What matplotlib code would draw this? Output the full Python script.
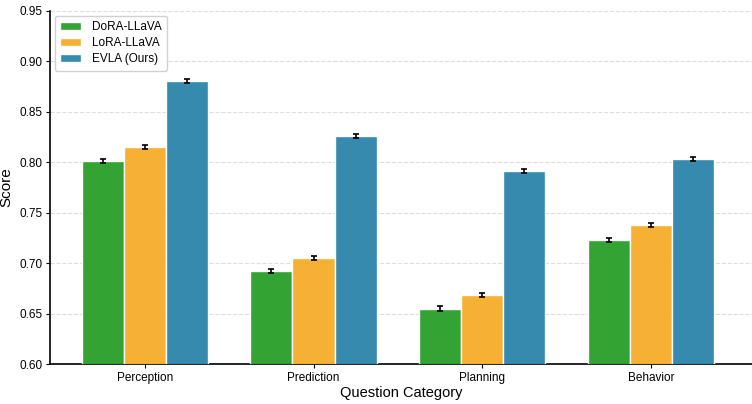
import matplotlib
matplotlib.use("Agg")
import matplotlib.pyplot as plt
import numpy as np

plt.rcParams['font.family'] = ['Liberation Sans', 'DejaVu Sans']

categories = ["Perception", "Prediction", "Planning", "Behavior"]
series_names = ["DoRA-LLaVA", "LoRA-LLaVA", "EVLA (Ours)"]
dora = [0.801, 0.692, 0.655, 0.723]
lora = [0.815, 0.705, 0.668, 0.738]
evla = [0.881, 0.826, 0.791, 0.803]
dora_err = [0.002, 0.002, 0.002, 0.002]
lora_err = [0.002, 0.002, 0.002, 0.002]
evla_err = [0.002, 0.002, 0.002, 0.002]
colors = ["#2ca02c", "#f6ae2d", "#2e86ab"]

fig = plt.figure(figsize=(7.52, 4.04), dpi=100)
ax = fig.add_axes([0.0665, 0.099, 0.9335, 0.874])

x = np.arange(len(categories))
w = 0.25
for i, (vals, errs) in enumerate(zip([dora, lora, evla], [dora_err, lora_err, evla_err])):
    ax.bar(x + (i - 1) * w, vals, w, yerr=errs, color=colors[i], edgecolor='white',
           linewidth=1.0, label=series_names[i], capsize=2.5, alpha=0.97,
           error_kw=dict(ecolor='black', elinewidth=1.2, capthick=1.2), zorder=3)

ax.set_xlim(-0.5625, 3.6)
ax.set_ylim(0.60, 0.95)
ax.set_yticks(np.arange(0.60, 0.951, 0.05))
ax.set_xticks(x)
ax.set_xticklabels(categories, fontsize=8.5)
ax.tick_params(axis='y', labelsize=8.5, length=3, pad=2.5)
ax.tick_params(axis='x', length=3, pad=2.5)
ax.set_xlabel("Question Category", fontsize=10.5, labelpad=2)
ax.set_ylabel("Score", fontsize=11, labelpad=4)
ax.yaxis.grid(True, linestyle='--', color='#dddddd', linewidth=0.8, zorder=0)
ax.set_axisbelow(True)
for s in ['top', 'right']:
    ax.spines[s].set_visible(False)
ax.spines['left'].set_linewidth(1.2)
ax.spines['bottom'].set_linewidth(1.2)
ax.legend(loc='upper left', fontsize=8.5, frameon=True, framealpha=0.9,
          handlelength=1.8, labelspacing=0.35, borderpad=0.45, handletextpad=0.9,
          edgecolor='#cccccc', borderaxespad=0.4)

fig.savefig("out.png", dpi=100)
